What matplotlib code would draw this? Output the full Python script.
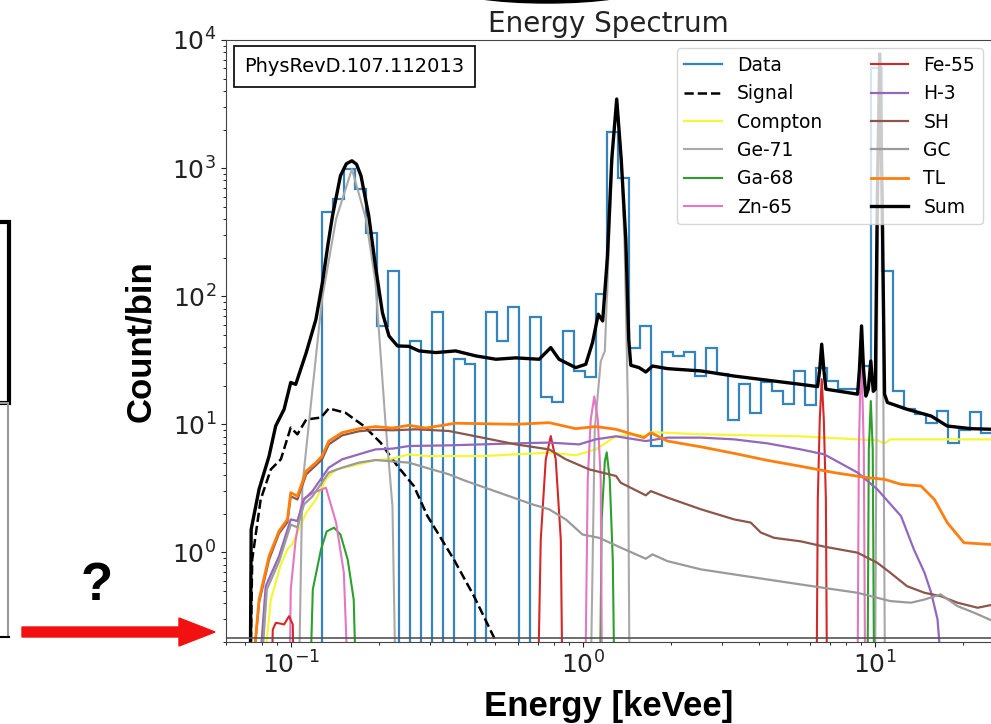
import numpy as np
import matplotlib
matplotlib.use("Agg")
import matplotlib.pyplot as plt
from matplotlib.patches import Rectangle, Ellipse, FancyArrow

# ---- histogram of measured data (log-spaced bins) ----
bin_lo, bin_hi, n_bins = 0.0585, 25.2, 70
data_counts = [0] * 9 + [
    451, 573, 982, 686, 314, 58.6, 158, 0, 44.8, 0, 75.4, 0, 32.2, 29.4, 0,
    74.6, 44.8, 83, 0, 69.4, 16.2, 14.8, 53.6, 26.1, 23.2, 104, 1922, 831,
    39.7, 58.6, 6.8, 36.7, 34.2, 36.7, 23.8, 39.7, 24.6, 10.9, 20.5, 12.3,
    21.4, 18.2, 14.3, 26.1, 14.1, 27.7, 21.8, 18.8, 18.8, 28.5, 6000, 158,
    18.2, 13.1, 12.0, 10.3, 12.7, 7.2, 9.1, 12.5, 8.6]

# ---- model components (energy keVee, count/bin) ----
signal_e = [0.0727, 0.0738, 0.0789, 0.0855, 0.0925, 0.100, 0.1054, 0.113, 0.127, 0.135,
            0.154, 0.178, 0.203, 0.232, 0.264, 0.294, 0.362, 0.424, 0.497, 0.524]
signal_c = [0.1, 0.88, 2.59, 4.45, 5.33, 9.43, 8.35, 10.9, 11.3, 13.3,
            12.3, 9.7, 7.2, 4.72, 3.3, 1.92, 0.88, 0.456, 0.216, 0.16]

compton_e = [0.0802, 0.0855, 0.0925, 0.0974, 0.101, 0.113, 0.122, 0.132, 0.143, 0.171, 0.195,
             0.223, 0.254, 0.290, 0.453, 0.590, 0.767, 0.946, 1.108, 1.30, 1.50, 1.644,
             1.71, 2.54, 5.58, 8.73, 10.2, 10.8, 11.3, 25.5]
compton_c = [0.1, 0.429, 0.806, 1.06, 1.15, 2.04, 2.59, 3.72, 4.45, 4.87, 5.26,
             5.4, 5.83, 5.65, 5.65, 5.83, 6.01, 5.73, 6.37, 8.06, 8.35, 8.1,
             8.7, 8.35, 8.06, 7.63, 7.5, 7.1, 7.63, 7.63]

ge71_e = [0.1048, 0.1096, 0.1187, 0.128, 0.143, 0.162, 0.181, 0.195, 0.211, 0.223, 0.2325,
          1.048, 1.099, 1.152, 1.19, 1.227, 1.267, 1.307, 1.349, 1.392, 1.426, 1.455,
          9.96, 10.2, 10.4, 10.65, 10.9]
ge71_c = [0.01, 3.3, 18.8, 94.8, 400, 982, 400, 129, 10.4, 2.3, 0.01,
          0.01, 9.14, 31, 37.2, 233, 1407, 3162, 1407, 233, 15.7, 0.01,
          0.01, 94.8, 7110, 94.8, 0.01]

ga68_e = [0.1134, 0.119, 0.127, 0.1328, 0.1407, 0.148, 0.1567, 0.1643, 0.1717,
          1.134, 1.161, 1.19, 1.208, 1.237, 1.267, 1.30,
          9.39, 9.54, 9.69, 9.84, 10.0]
ga68_c = [0.01, 0.514, 1.06, 1.46, 1.56, 1.38, 0.88, 0.429, 0.01,
          0.01, 1.81, 5.14, 6.04, 3.72, 0.88, 0.01,
          0.01, 6.37, 15.2, 6.37, 0.01]

zn65_e = [0.098, 0.100, 0.104, 0.1096, 0.120, 0.132, 0.143, 0.152, 0.163,
          1.008, 1.04, 1.065, 1.095, 1.126, 1.152, 1.171,
          8.68, 8.82, 8.99, 9.17, 9.32]
zn65_c = [0.01, 0.514, 1.26, 2.59, 2.93, 3.2, 1.71, 0.694, 0.01,
          0.01, 3.72, 10.9, 16.5, 10.9, 3.72, 0.01,
          0.01, 6.37, 40, 6.37, 0.01]

fe55_e = [0.0841, 0.0868, 0.0889, 0.0917, 0.0949, 0.0987, 0.1016, 0.104,
          0.690, 0.718, 0.747, 0.777, 0.808, 0.841, 0.861,
          6.28, 6.38, 6.48, 6.58, 6.69, 6.80, 6.90]
fe55_c = [0.01, 0.25, 0.282, 0.279, 0.274, 0.318, 0.274, 0.01,
          0.01, 1.26, 5.33, 8.1, 5.33, 1.26, 0.01,
          0.01, 2.59, 10.9, 22.5, 10.9, 2.59, 0.01]

h3_e = [0.0777, 0.0821, 0.0912, 0.100, 0.1054, 0.111, 0.1187, 0.135, 0.150, 0.171, 0.195,
        0.223, 0.254, 0.348, 0.590, 0.767, 0.971, 1.108, 1.30, 1.644, 1.95, 2.54, 3.30,
        4.29, 5.58, 6.71, 8.73, 10.2, 12.3, 13.6, 14.8, 15.6, 16.4, 16.8]
h3_c = [0.1, 0.545, 0.936, 1.81, 1.76, 2.59, 3.01, 4.59, 5.33, 5.83, 6.37,
        6.46, 6.77, 6.85, 7.1, 7.2, 6.97, 7.63, 8.06, 7.4, 7.87, 7.87, 7.63,
        7.1, 6.37, 5.83, 4.2, 3.11, 1.92, 1.06, 0.694, 0.484, 0.3, 0.15]

sh_e = [0.0736, 0.0779, 0.0843, 0.0912, 0.0974, 0.100, 0.1054, 0.113, 0.122, 0.128, 0.135,
        0.150, 0.171, 0.195, 0.223, 0.268, 0.348, 0.453, 0.590, 0.767, 0.875, 1.051,
        1.30, 1.349, 1.644, 1.71, 1.95, 2.54, 3.30, 3.76, 4.07, 4.52, 5.58, 6.71,
        8.73, 10.2, 11.3, 12.9, 14.8, 16.8, 19.2, 22.5, 25.5]
sh_c = [0.1, 0.407, 0.88, 1.41, 1.72, 2.74, 2.59, 4.07, 4.79, 5.33, 6.97,
        8.2, 8.82, 9.06, 8.98, 9.14, 8.87, 7.87, 6.97, 6.37, 5.33, 4.45,
        3.95, 3.5, 2.79, 3.01, 2.68, 2.17, 1.81, 1.71, 1.43, 1.30, 1.22, 1.11,
        0.995, 0.83, 0.694, 0.545, 0.484, 0.456, 0.405, 0.37, 0.392]

gc_e = [0.0789, 0.0828, 0.0912, 0.100, 0.1054, 0.111, 0.1187, 0.135, 0.150, 0.171, 0.195,
        0.254, 0.290, 0.348, 0.398, 0.517, 0.673, 0.767, 0.875, 0.998, 1.137, 1.349,
        1.644, 1.733, 1.95, 2.54, 4.29, 5.58, 8.73, 11.3, 13.3, 14.8, 16.8, 19.2,
        21.9, 25.5]
gc_c = [0.1, 0.514, 0.85, 1.65, 1.57, 2.37, 2.74, 4.2, 4.59, 5.02, 5.26,
        5.02, 4.59, 4.07, 3.61, 2.93, 2.37, 2.17, 1.81, 1.38, 1.30, 1.09,
        0.893, 0.965, 0.855, 0.737, 0.615, 0.562, 0.484, 0.417, 0.405, 0.429, 0.47, 0.381,
        0.338, 0.29]

tl_e = [0.0736, 0.0779, 0.0843, 0.0912, 0.0974, 0.100, 0.1054, 0.113, 0.122, 0.128, 0.135,
        0.150, 0.171, 0.195, 0.223, 0.254, 0.290, 0.367, 0.590, 0.767, 0.946, 1.108,
        1.30, 1.62, 1.71, 1.95, 2.54, 3.30, 4.29, 5.58, 7.25, 9.44, 10.8, 12.3, 14.4,
        16.0, 17.7, 20.2, 25.5]
tl_c = [0.1, 0.429, 0.936, 1.47, 1.81, 2.93, 2.75, 4.32, 5.02, 5.65, 7.4,
        8.61, 9.25, 9.6, 9.35, 9.82, 9.35, 10.2, 10.0, 10.3, 9.25, 9.6,
        9.14, 7.87, 8.61, 7.4, 6.67, 5.93, 5.23, 4.7, 4.2, 3.83, 3.72, 3.4, 3.3,
        2.59, 1.71, 1.19, 1.15]

sum_e = [0.0727, 0.0732, 0.0779, 0.0843, 0.0888, 0.0949, 0.100, 0.104, 0.113, 0.122,
         0.1284, 0.134, 0.139, 0.148, 0.155, 0.162, 0.168, 0.174, 0.185, 0.195, 0.206,
         0.217, 0.232, 0.254, 0.275, 0.314, 0.367, 0.430, 0.504, 0.590, 0.709, 0.777,
         0.829, 0.946, 1.024, 1.08, 1.13, 1.17, 1.215, 1.257, 1.307, 1.354, 1.404,
         1.437, 1.46, 1.559, 1.644, 1.733, 1.95, 2.54, 3.30, 5.58, 6.37, 6.48, 6.58,
         6.69, 6.80, 8.73, 8.86, 9.01, 9.15, 9.32, 9.50, 9.69, 9.88, 10.04, 10.2,
         10.4, 10.6, 10.8, 11.05, 12.9, 15.6, 17.7, 21.3, 25.5]
sum_c = [0.1, 1.51, 3.11, 5.65, 9.7, 13.1, 21.2, 20.5, 36.3, 66.1,
         128, 250, 424, 871, 1080, 1140, 1070, 871, 424, 172, 74.6,
         48.9, 40.9, 40.6, 37.4, 36.3, 37.4, 34.2, 32.2, 33.0, 32.2, 39.7,
         32.2, 27.7, 29.4, 43.5, 72.3, 64.1, 206, 1176, 3460, 1176, 279,
         46.1, 28.9, 27.7, 25.6, 28.5, 27.2, 26.1, 23.8, 20.5, 19.7, 26.9, 42.2,
         26.9, 18.8, 17.2, 26.9, 58.6, 26.9, 16.6, 18.8, 31.2, 18.1, 18.8, 573,
         7780, 573, 17.2, 14.8, 13.1, 11.6, 9.7, 9.25, 9.14]

legend_order = ["Data", "Signal", "Compton", "Ge-71", "Ga-68", "Zn-65",
                "Fe-55", "H-3", "SH", "GC", "TL", "Sum"]

fig = plt.figure(figsize=(9.91, 7.24), dpi=100)
ax = fig.add_axes([0.228, 0.1133, 0.772, 0.8315])

edges = np.logspace(np.log10(bin_lo), np.log10(bin_hi), n_bins + 1)
counts = np.array(data_counts, dtype=float)
ax.stairs(np.where(counts > 0, counts, 1e-3), edges, baseline=None,
          color="#3584bd", lw=1.6, label="Data")

ax.plot(signal_e, signal_c, "--", color="black", lw=1.8, label="Signal")
ax.plot(compton_e, compton_c, color="#f5f53a", lw=1.6, label="Compton")
ax.plot(ge71_e, ge71_c, color="#a9a9a9", lw=1.5, label="Ge-71")
ax.plot(ga68_e, ga68_c, color="#2ca02c", lw=1.5, label="Ga-68")
ax.plot(zn65_e, zn65_c, color="#e377c2", lw=1.5, label="Zn-65")
ax.plot(fe55_e, fe55_c, color="#d62728", lw=1.5, label="Fe-55")
ax.plot(h3_e, h3_c, color="#9467bd", lw=1.6, label="H-3")
ax.plot(sh_e, sh_c, color="#8c564b", lw=1.6, label="SH")
ax.plot(gc_e, gc_c, color="#9a9a9a", lw=1.6, label="GC")
ax.plot(tl_e, tl_c, color="#ff7f0e", lw=2.0, label="TL")
ax.plot(sum_e, sum_c, color="black", lw=2.4, label="Sum")

ax.axhline(0.213, color="#555555", lw=1.2)

ax.set_xscale("log")
ax.set_yscale("log")
ax.set_xlim(0.06, 25)
ax.set_ylim(0.2, 1e4)
for s in ["left", "bottom", "top"]:
    ax.spines[s].set_color("#444444")
ax.spines["right"].set_visible(False)
ax.tick_params(labelsize=18, colors="#222222")

ax.set_title("Energy Spectrum", fontsize=20, color="#222222")
ax.set_xlabel("Energy [keVee]", fontsize=25, fontweight="bold",
              family="Liberation Sans", labelpad=8)
ax.set_ylabel("Count/bin", fontsize=25, fontweight="bold",
              family="Liberation Sans", labelpad=11)

ax.text(0.024, 0.972, "PhysRevD.107.112013", transform=ax.transAxes,
        fontsize=14, va="top", ha="left",
        bbox=dict(boxstyle="square,pad=0.55", fc="white", ec="black", lw=1.2))

handles, labels = ax.get_legend_handles_labels()
lookup = dict(zip(labels, handles))
ax.legend([lookup[k] for k in legend_order], legend_order, ncol=2,
          loc="upper right", fontsize=13.5, borderaxespad=0.45,
          columnspacing=2.6)

# ---- annotation marks around the figure ----
inch = fig.dpi_scale_trans
fig.add_artist(Rectangle((-0.1, 3.21), 0.19, 1.81, transform=inch,
                         fill=False, ec="black", lw=3))
fig.add_artist(Rectangle((-0.1, 0.87), 0.18, 2.34, transform=inch,
                         fill=False, ec="#999999", lw=1.5))
fig.add_artist(plt.Line2D([0, 0.09], [0.87, 0.87], transform=inch,
                          color="black", lw=1.5))
fig.add_artist(Ellipse((5.47, 7.36), 1.9, 0.3, transform=inch,
                       fc="black", ec="black"))
fig.add_artist(FancyArrow(0.22, 0.92, 1.93, 0, width=0.1, head_width=0.28,
                          head_length=0.36, length_includes_head=True,
                          color="#f21010", transform=inch))
fig.text(0.97, 1.38, "?", transform=inch, fontsize=38, fontweight="bold",
         family="Liberation Sans", ha="center", va="center")

fig.savefig("out.png", dpi=100)
